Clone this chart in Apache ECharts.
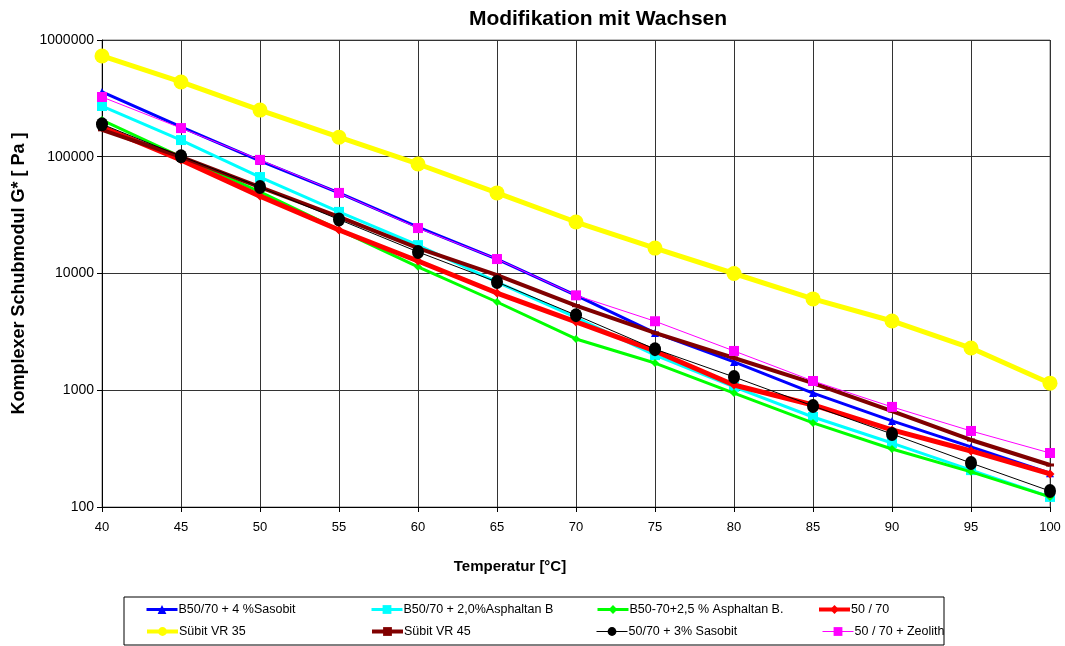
<!DOCTYPE html>
<html><head><meta charset="utf-8">
<script src="https://cdn.jsdelivr.net/npm/echarts@6/dist/echarts.min.js"></script>
<style>html,body{margin:0;padding:0;background:#fff}#c{width:1065px;height:646px}</style>
</head><body><div id="c"></div>
<script>
const temps = [40,45,50,55,60,65,70,75,80,85,90,95,100];
const seriesNames = ['B50/70 + 4 %Sasobit','B50/70 + 2,0%Asphaltan B','B50-70+2,5 % Asphaltan B.','50 / 70','Sübit VR 35','Sübit VR 45','50/70 + 3% Sasobit','50 / 70 + Zeolith'];
const sasobit4   = [359000,180000,92000,49000,25000,13300,6500,3100,1750,946,546,327,195];
const asphaltan2 = [272000,139000,67000,33700,17500,8450,4200,2000,1070,590,353,207,122];
const asphaltan25= [206000,100000,50000,23600,11400,5700,2750,1710,946,525,314,200,122];
const b5070      = [180000,94000,46000,23600,12800,6800,3850,2170,1110,748,457,302,192];
const vr35       = [730000,437000,251000,147000,86700,49000,27600,16500,10000,6060,3920,2300,1150];
const vr45       = [170000,100000,55000,30500,16500,9700,5300,3100,1890,1150,664,375,229];
const sasobit3   = [190000,101000,55000,29000,15300,8450,4400,2250,1300,733,422,238,137];
const zeolith    = [325000,176000,94000,49000,24500,13300,6500,3900,2170,1200,720,448,290];
const yTicks = ['100','1000','10000','100000','1000000'];

const values = [sasobit4, asphaltan2, asphaltan25, b5070, vr35, vr45, sasobit3, zeolith];
const styles = [
  {color:'#0000ff', width:3, symbol:'triangle', size:8},
  {color:'#00ffff', width:3, symbol:'rect', size:10},
  {color:'#00ff00', width:3, symbol:'diamond', size:8},
  {color:'#ff0000', width:5, symbol:'diamond', size:9},
  {color:'#ffff00', width:5, symbol:'circle', size:15},
  {color:'#800000', width:4, symbol:'rect', size:[8,3]},
  {color:'#000000', width:1, symbol:'circle', size:[12,14]},
  {color:'#ff00ff', width:1, symbol:'rect', size:10}
];
const sans = "'Liberation Sans',Arial,sans-serif";
const series = seriesNames.map((n,i)=>({
  name:n, type:'line',
  data: temps.map((t,j)=>[t, values[i][j]]),
  symbol: styles[i].symbol, symbolSize: styles[i].size,
  showAllSymbol:true,
  lineStyle:{color:styles[i].color, width:styles[i].width},
  itemStyle:{color:styles[i].color},
  emphasis:{disabled:true}, animation:false, z: 2+i
}));
const legendX = [145,370,596,817, 145,370,596,822];
const legendY = [603,603,603,603, 625,625,625,625];
const legends = seriesNames.map((n,k)=>({
  orient:'horizontal', left:legendX[k], top:legendY[k], itemWidth:31, itemHeight:11,
  data:[{name:n, lineStyle:{width:Math.min(styles[k].width,4), color:styles[k].color}}], padding:0,
  textStyle:{fontFamily:sans, fontSize:12.5, color:'#000', padding:[0,0,0,-4]},
  selectedMode:false
}));
const chart = echarts.init(document.getElementById('c'));
chart.setOption({
  backgroundColor:'#fff',
  animation:false,
  title:{text:'Modifikation mit Wachsen', left:593, top:4, textAlign:'center',
    textStyle:{fontFamily:sans, fontWeight:'bold', fontSize:21, color:'#000'}},
  grid:{left:102, right:15, top:40, bottom:139, show:true, borderColor:'#808080', borderWidth:1,
    containLabel:false, outerBoundsMode:'none'},
  legend: legends,
  xAxis:{type:'value', min:40, max:100, interval:5,
    axisLine:{lineStyle:{color:'#000'}}, axisTick:{show:true, length:5, lineStyle:{color:'#000'}},
    axisLabel:{fontFamily:sans, fontSize:13, color:'#000', margin:14},
    splitLine:{lineStyle:{color:'#333', width:1}}},
  yAxis:{type:'log', logBase:10, min:100, max:1000000,
    name:'Komplexer Schubmodul G* [ Pa ]', nameLocation:'middle', nameGap:74,
    nameTextStyle:{fontFamily:sans, fontWeight:'bold', fontSize:18, color:'#000'},
    axisLine:{show:true, lineStyle:{color:'#000'}}, axisTick:{show:true, length:5, lineStyle:{color:'#000'}},
    axisLabel:{fontFamily:sans, fontSize:14, color:'#000', margin:8,
      formatter:v=>{const r=Math.round(v); const s=String(r); return yTicks.includes(s)?s:'';}},
    minorSplitLine:{show:false},
    splitLine:{lineStyle:{color:'#333', width:1}}},
  graphic:[
    {type:'text', style:{text:'Temperatur [°C]', x:0, y:0,
      font:"bold 15px "+sans, fill:'#000', textAlign:'center'}, position:[510,559]},
    {type:'rect', shape:{x:124, y:597, width:820, height:48}, style:{fill:'none', stroke:'#000', lineWidth:1}, z:-1}
  ],
  series: series
});
</script></body></html>
